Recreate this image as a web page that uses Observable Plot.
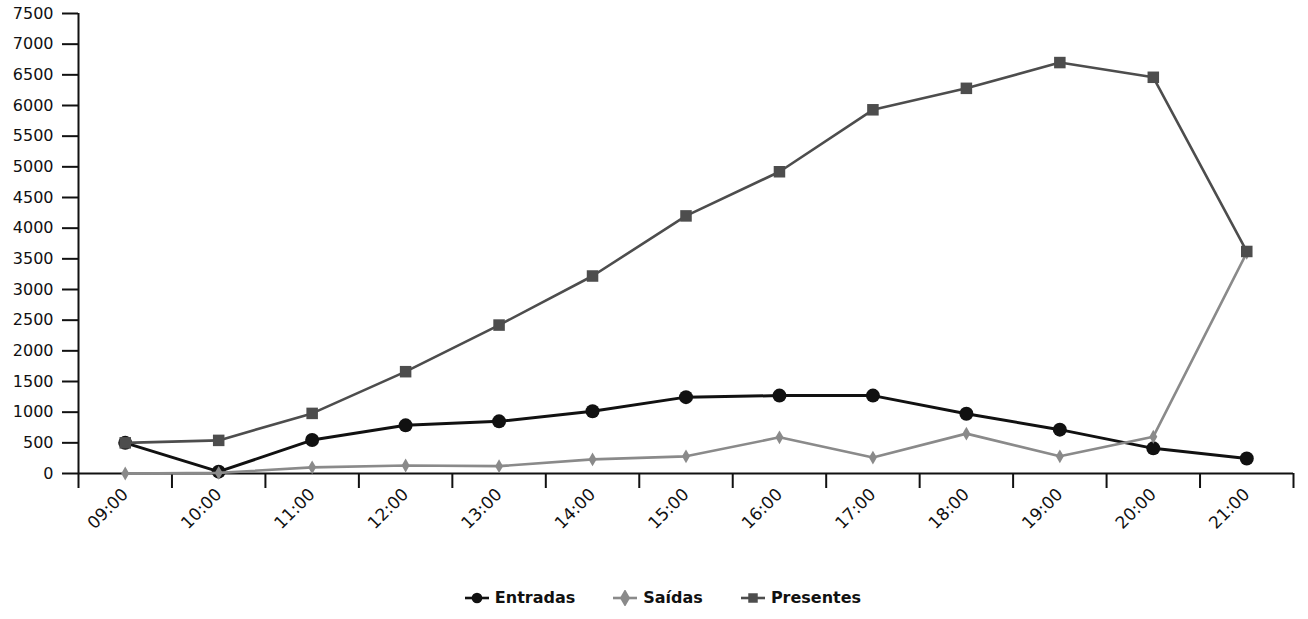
<!DOCTYPE html>
<html>
<head>
<meta charset="utf-8">
<script src="https://cdn.jsdelivr.net/npm/d3@7"></script>
<script src="https://cdn.jsdelivr.net/npm/@observablehq/plot@0.6"></script>
<style>
  body { margin: 0; background: #fff; font-family: "DejaVu Sans", sans-serif; }
  #chart svg { display: block; }
  #legend { display: flex; justify-content: center; gap: 36px; padding-left: 16px; margin-top: 28px; font-size: 16px; font-weight: bold; color: #111; }
  #legend .item { display: flex; align-items: center; gap: 4px; }
</style>
</head>
<body>
<div id="chart"></div>
<div id="legend"></div>
<script>
const hours = ["09:00","10:00","11:00","12:00","13:00","14:00","15:00","16:00","17:00","18:00","19:00","20:00","21:00"];
const entradas = [500, 30, 545, 785, 850, 1015, 1245, 1270, 1270, 975, 715, 410, 245];
const saidas = [0, 10, 100, 130, 120, 230, 280, 590, 260, 650, 280, 600, 3600];
const presentes = [500, 540, 980, 1660, 2420, 3220, 4200, 4920, 5930, 6280, 6700, 6460, 3620];
const yTicks = d3.range(0, 7501, 500);

const seriesNames = ["Entradas", "Saídas", "Presentes"];
const seriesColors = ["#111111", "#8a8a8a", "#4d4d4d"];
const seriesSymbols = ["circle", "diamond", "square"];
const seriesRadius = [7, 4.2, 6.5];
const seriesValues = [entradas, saidas, presentes];

const tables = seriesNames.map((s, k) => seriesValues[k].map((v, i) => ({series: s, i, hour: hours[i], value: v})));
const bounds = d3.range(-0.5, hours.length, 1);

const chart = Plot.plot({
  width: 1308,
  height: 560,
  marginLeft: 78,
  marginRight: 15,
  marginTop: 13,
  marginBottom: 87,
  style: {fontFamily: "DejaVu Sans, sans-serif", fontSize: "16px", color: "#111"},
  x: {type: "linear", domain: [-0.5, hours.length - 0.5]},
  y: {domain: [0, 7500]},
  marks: [
    Plot.axisY({ticks: yTicks, tickSize: 16, tickPadding: 9, tickFormat: d3.format("d"), label: null, strokeWidth: 2, fontSize: 16}),
    Plot.axisX({ticks: bounds, tickSize: 15, tickFormat: () => "", label: null, strokeWidth: 2}),
    Plot.axisX({ticks: d3.range(hours.length), tickSize: 0, tickPadding: 18, tickRotate: -45, tickFormat: i => hours[i], label: null, fontSize: 17}),
    Plot.ruleX([-0.5], {y1: 0, y2: 7500, strokeWidth: 2, stroke: "#111"}),
    Plot.ruleY([0], {strokeWidth: 2, stroke: "#111"}),
    ...tables.flatMap((t, k) => [
      Plot.line(t, {x: "i", y: "value", stroke: seriesColors[k], strokeWidth: k === 0 ? 3 : 2.6}),
      Plot.dot(t, {x: "i", y: "value", symbol: seriesSymbols[k], fill: seriesColors[k], r: seriesRadius[k]})
    ])
  ]
});
document.getElementById("chart").appendChild(chart);

const legend = document.getElementById("legend");
seriesNames.forEach((s, k) => {
  const item = document.createElement("div");
  item.className = "item";
  const sym = d3.symbol(d3[{circle: "symbolCircle", diamond: "symbolDiamond", square: "symbolSquare"}[seriesSymbols[k]]], 90)();
  item.innerHTML = `<svg width="28" height="16"><line x1="2" x2="26" y1="8" y2="8" stroke="${seriesColors[k]}" stroke-width="2.6"/><path d="${sym}" transform="translate(14,8)" fill="${seriesColors[k]}"/></svg><span>${s}</span>`;
  legend.appendChild(item);
});
</script>
</body>
</html>
